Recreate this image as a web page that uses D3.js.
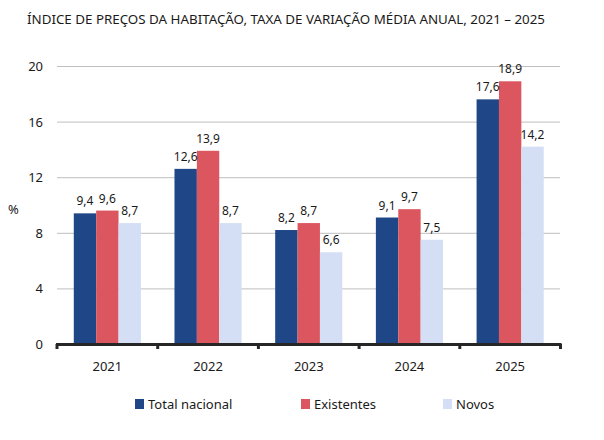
<!DOCTYPE html>
<html><head><meta charset="utf-8">
<script src="https://cdn.jsdelivr.net/npm/d3@7"></script>
<style>body{margin:0;background:#fff;} text{font-family:"Noto Sans",sans-serif;fill:#1a1a1a;}</style>
</head><body><svg id="c" width="604" height="440"></svg>
<script>
const years = ["2021","2022","2023","2024","2025"];
const seriesNames = ["Total nacional","Existentes","Novos"];
const totalNacional = [9.4,12.6,8.2,9.1,17.6];
const existentes = [9.6,13.9,8.7,9.7,18.9];
const novos = [8.7,8.7,6.6,7.5,14.2];
const yTicks = [0,4,8,12,16,20];
const colors = ["#1f4788","#dc5660","#d4dff5"];
const title = "ÍNDICE DE PREÇOS DA HABITAÇÃO, TAXA DE VARIAÇÃO MÉDIA ANUAL, 2021 – 2025";

const svg = d3.select("#c");
const x = d3.scaleBand().domain(years).range([57,560.5]).paddingInner(0).paddingOuter(0);
const y = d3.scaleLinear().domain([0,20]).range([344,66]);
const xs = d3.scaleBand().domain(seriesNames).range([0,x.bandwidth()]).paddingInner(0).paddingOuter(0.75);
const fmt = v => String(v).replace(".",",");

svg.append("text").attr("x",27).attr("y",24).attr("font-size",13)
  .attr("textLength",518).attr("lengthAdjust","spacingAndGlyphs").text(title);

// grid
svg.append("g").selectAll("line").data(yTicks.filter(d=>d>0)).join("line")
  .attr("x1",57).attr("x2",560).attr("y1",d=>y(d)+0.5).attr("y2",d=>y(d)+0.5)
  .attr("stroke","#bfbfbf").attr("stroke-width",1);

// y labels
svg.append("g").selectAll("text").data(yTicks).join("text")
  .attr("x",43).attr("y",d=>y(d)+5).attr("text-anchor","end").attr("font-size",13).text(d=>d);
svg.append("text").attr("x",8).attr("y",214).attr("font-size",13).text("%");

const data = [totalNacional,existentes,novos];
const groups = svg.append("g").selectAll("g").data(years).join("g")
  .attr("transform",d=>`translate(${x(d)},0)`);
groups.selectAll("rect").data((d,i)=>data.map((s,j)=>({s:seriesNames[j],v:s[i],j})))
  .join("rect")
  .attr("x",d=>xs(d.s)).attr("width",xs.bandwidth())
  .attr("y",d=>y(d.v)).attr("height",d=>y(0)-y(d.v))
  .attr("fill",d=>colors[d.j]);
groups.selectAll("text").data((d,i)=>data.map((s,j)=>({s:seriesNames[j],v:s[i],j})))
  .join("text")
  .attr("x",d=>xs(d.s)+xs.bandwidth()/2).attr("y",d=>y(d.v)-8)
  .attr("text-anchor","middle").attr("font-size",12).text(d=>fmt(d.v));

// x axis
const ax = svg.append("g");
ax.append("line").attr("x1",56).attr("x2",561.5).attr("y1",344.5).attr("y2",344.5)
  .attr("stroke","#262626").attr("stroke-width",3);
const tickX = years.map(d=>x(d)).concat([x.range()[1]]);
ax.selectAll(".t").data(tickX).join("line").attr("class","t")
  .attr("x1",d=>d).attr("x2",d=>d).attr("y1",344).attr("y2",349)
  .attr("stroke","#262626").attr("stroke-width",3);
ax.selectAll("text").data(years).join("text")
  .attr("x",d=>x(d)+x.bandwidth()/2).attr("y",371).attr("text-anchor","middle")
  .attr("font-size",13).text(d=>d);

// legend
const legX = [135,301,443];
const lg = svg.append("g").selectAll("g").data(seriesNames).join("g")
  .attr("transform",(d,i)=>`translate(${legX[i]},399)`);
lg.append("rect").attr("width",9).attr("height",10).attr("fill",(d,i)=>colors[i]);
lg.append("text").attr("x",13).attr("y",10).attr("font-size",13).text(d=>d);
</script></body></html>
